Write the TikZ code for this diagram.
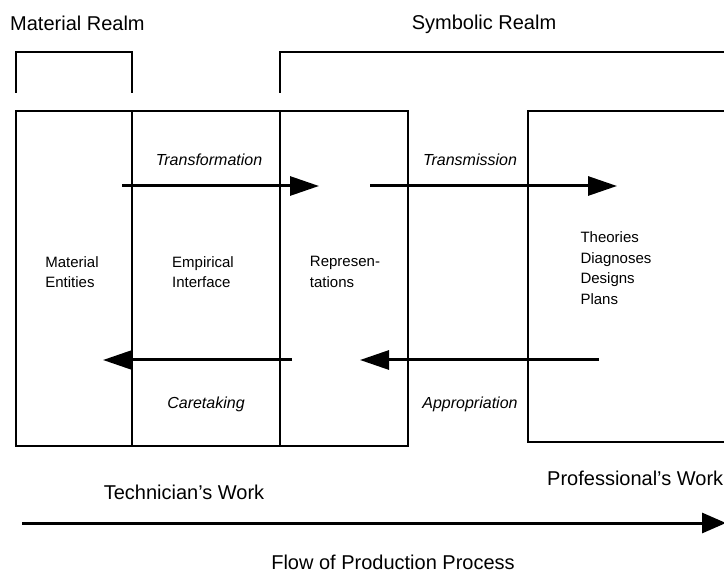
\documentclass[tikz,border=0pt]{standalone}
\usepackage{fontspec}
\setmainfont{Liberation Sans}
\usetikzlibrary{arrows.meta}

\begin{document}
\begin{tikzpicture}[x=1pt, y=-1pt,
    cell/.style={draw, line width=1.3pt, minimum height=335pt, outer sep=0pt, inner sep=0pt},
    lbl/.style={font=\fontsize{15}{20.5}\selectfont, align=left},
    flowlbl/.style={font=\itshape\fontsize{16}{19}\selectfont},
    title/.style={font=\fontsize{20}{24}\selectfont, inner sep=1pt},
    bigarrow/.style={line width=3pt, -{Triangle[length=29pt,width=19pt]}}]
  \useasboundingbox (0,0) rectangle (724,572);

  % realms
  \node[title, anchor=west] (matrealm) at (9,23) {Material Realm};
  \node[title] (symrealm) at (484,24) {Symbolic Realm};
  \draw[line width=1.3pt] (16,93) |- (132,52) -- (132,93);
  \draw[line width=1.3pt] (280,93) |- (724,52);

  % cells
  \node[cell, minimum width=116pt] (matcell) at (74,278.5) {};
  \node[cell, minimum width=148pt] (empcell) at (206,278.5) {};
  \node[cell, minimum width=128pt] (repcell) at (344,278.5) {};
  \draw[line width=1.3pt] (724,111) -| (528,442) -- (724,442);

  \node[lbl] (matent) at (72,272) {Material\\Entities};
  \node[lbl] (empint) at (203,272) {Empirical\\Interface};
  \node[lbl] (repr) at (345,272) {Represen-\\tations};
  \node[lbl, anchor=west] (theories) at (577,268) {Theories\\Diagnoses\\Designs\\Plans};

  % flows
  \coordinate (tf-s) at (122,186);
  \coordinate (tf-e) at (319,186);
  \coordinate (tm-s) at (370,186);
  \coordinate (tm-e) at (617,186);
  \coordinate (ap-s) at (599,360);
  \coordinate (ap-e) at (360,360);
  \coordinate (ct-s) at (292,360);
  \coordinate (ct-e) at (103,360);
  \draw[bigarrow] (tf-s) -- (tf-e);
  \draw[bigarrow] (tm-s) -- (tm-e);
  \draw[bigarrow] (ap-s) -- (ap-e);
  \draw[bigarrow] (ct-s) -- (ct-e);
  \node[flowlbl] (transf) at (209,160) {Transformation};
  \node[flowlbl] (transm) at (470,160) {Transmission};
  \node[flowlbl] (caret) at (206,404) {Caretaking};
  \node[flowlbl] (approp) at (470,404) {Appropriation};

  % work and process
  \node[title] (techwork) at (184,492) {Technician's Work};
  \node[title, anchor=west] (profwork) at (546,478) {Professional's Work};
  \coordinate (pp-s) at (22,523);
  \coordinate (pp-e) at (726,523);
  \draw[line width=3pt, -{Triangle[length=24pt,width=20pt]}] (pp-s) -- (pp-e);
  \node[title] (flow) at (393,562) {Flow of Production Process};
\end{tikzpicture}
\end{document}
